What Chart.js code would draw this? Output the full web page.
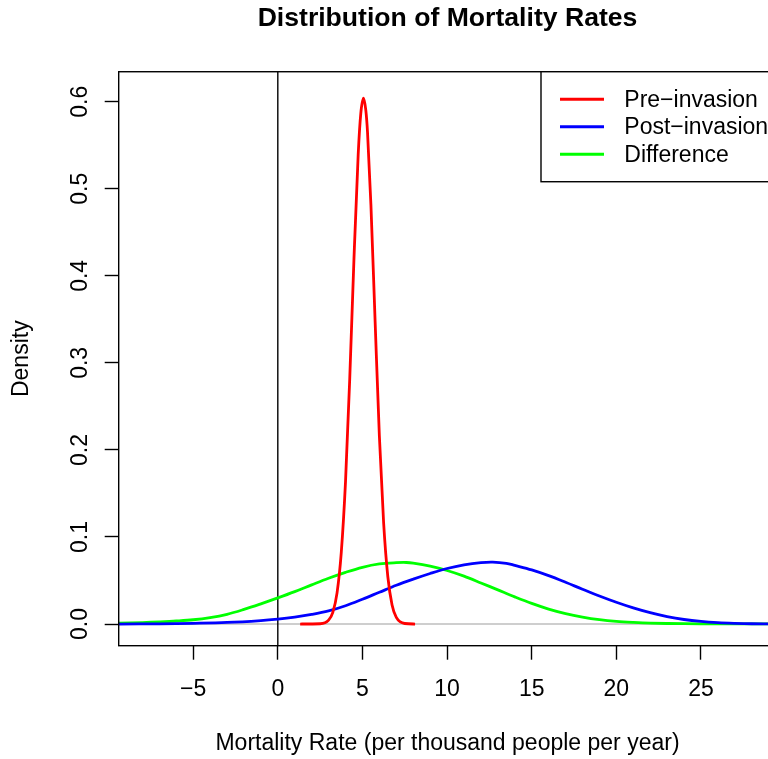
<!DOCTYPE html>
<html>
<head>
<meta charset="utf-8">
<script src="https://cdn.jsdelivr.net/npm/chart.js@4/dist/chart.umd.min.js"></script>
<style>
  html, body { margin: 0; padding: 0; background: #fff; overflow: hidden; }
  #wrap { width: 768px; height: 759px; overflow: hidden; }
</style>
</head>
<body>
<div id="wrap"><canvas id="chart" width="800" height="759"></canvas></div>
<script>
// values
const preX = [1.32, 2.5, 3.0, 3.25, 3.5, 3.75, 4.0, 4.25, 4.5, 4.75, 4.9, 5.06, 5.2, 5.3, 5.5, 5.75, 6.0, 6.25, 6.5, 6.75, 7.0, 7.5, 8.11];
const preY = [0, 0.0003, 0.0044, 0.0134, 0.0358, 0.0823, 0.1636, 0.282, 0.420, 0.540, 0.586, 0.604, 0.590, 0.565, 0.482, 0.347, 0.216, 0.1166, 0.0543, 0.0219, 0.0076, 0.0006, 0];

const postX = [-9.4, -7, -5, -3, -1, 0, 1, 2, 3, 4, 5, 6, 7, 8, 9, 10, 11, 12, 12.7, 13.5, 14, 15, 16, 17, 18, 19, 20, 21, 22, 23, 24, 25, 26, 27, 28, 29.45];
const postY = [0, 0.0002, 0.0008, 0.0018, 0.0040, 0.0057, 0.0080, 0.0110, 0.0150, 0.0210, 0.0285, 0.0365, 0.0445, 0.0515, 0.0580, 0.0638, 0.0680, 0.0706, 0.0712, 0.0698, 0.0674, 0.0622, 0.0556, 0.0480, 0.0400, 0.0322, 0.0250, 0.0185, 0.0130, 0.0085, 0.0052, 0.0030, 0.0016, 0.0008, 0.0003, 0.0001];

const diffX = [-9.4, -8, -7, -6, -5, -4, -3, -2, -1, 0, 1, 2, 3, 4, 5, 6, 7, 7.6, 8, 9, 10, 11, 12, 13, 14, 15, 16, 17, 18, 19, 20, 21, 22, 24, 26, 29.45];
const diffY = [0.0010, 0.0017, 0.0025, 0.0035, 0.0049, 0.0074, 0.0112, 0.0168, 0.0232, 0.0300, 0.0372, 0.0450, 0.0526, 0.0594, 0.0652, 0.0690, 0.0705, 0.0707, 0.0700, 0.0665, 0.0615, 0.0550, 0.0472, 0.0392, 0.0312, 0.0237, 0.0172, 0.0120, 0.0080, 0.0050, 0.0030, 0.0018, 0.0010, 0.0004, 0.0002, 0.0001];

const seriesNames = ["Pre\u2212invasion", "Post\u2212invasion", "Difference"];
const seriesColors = ["#ff0000", "#0000ff", "#00ff00"];

const xTicks = [-5, 0, 5, 10, 15, 20, 25];
const yTicks = [0, 0.1, 0.2, 0.3, 0.4, 0.5, 0.6];

const FONT = "'Liberation Sans', Arial, Helvetica, sans-serif";
const BASE = 23;

function toPoints(xs, ys) {
    return xs.map((x, i) => ({ x: x, y: ys[i] }));
}

// R style extras: box, reference lines, legend
const rStyle = {
    id: "rStyle",
    beforeDatasetsDraw(chart) {
        const { ctx, chartArea: a, scales } = chart;
        ctx.save();
        ctx.beginPath();
        ctx.rect(a.left, a.top, a.right - a.left, a.bottom - a.top);
        ctx.clip();
        ctx.lineWidth = 1.4;
        // abline(h = 0, col = "gray")
        const y0 = scales.y.getPixelForValue(0);
        ctx.strokeStyle = "#bebebe";
        ctx.beginPath();
        ctx.moveTo(a.left, y0);
        ctx.lineTo(a.right, y0);
        ctx.stroke();
        // abline(v = 0)
        const x0 = scales.x.getPixelForValue(0);
        ctx.strokeStyle = "#000";
        ctx.beginPath();
        ctx.moveTo(x0, a.top);
        ctx.lineTo(x0, a.bottom);
        ctx.stroke();
        ctx.restore();
    },
    afterDraw(chart) {
        const { ctx, chartArea: a } = chart;
        ctx.save();
        ctx.strokeStyle = "#000";
        ctx.lineWidth = 1.4;
        ctx.strokeRect(a.left, a.top, a.right - a.left, a.bottom - a.top);

        // legend, top right
        const left = a.right - 235.3;
        const top = a.top;
        ctx.fillStyle = "#fff";
        ctx.fillRect(left, top, a.right - left, 110);
        ctx.strokeRect(left, top, a.right - left, 110);
        ctx.font = BASE + "px " + FONT;
        ctx.textBaseline = "middle";
        ctx.textAlign = "left";
        chart.data.datasets.forEach((ds, i) => {
            const y = top + 27.6 + i * 27.5;
            ctx.strokeStyle = ds.borderColor;
            ctx.lineWidth = 3;
            ctx.beginPath();
            ctx.moveTo(left + 19, y);
            ctx.lineTo(left + 63, y);
            ctx.stroke();
            ctx.fillStyle = "#000";
            ctx.fillText(ds.label, left + 83.3, y + 1);
        });
        ctx.restore();
    }
};

const datasets = [
    toPoints(preX, preY),
    toPoints(postX, postY),
    toPoints(diffX, diffY)
].map((pts, i) => ({
    label: seriesNames[i],
    data: pts,
    showLine: true,
    borderColor: seriesColors[i],
    backgroundColor: seriesColors[i],
    borderWidth: 2.8,
    pointRadius: 0,
    fill: false,
    cubicInterpolationMode: i === 0 ? "monotone" : "default",
    tension: 0.35
}));

new Chart(document.getElementById("chart").getContext("2d"), {
    type: "scatter",
    data: { datasets: datasets },
    options: {
        responsive: false,
        devicePixelRatio: 1,
        animation: false,
        events: [],
        layout: { padding: { left: 0, top: 0, right: 23.7, bottom: 0 } },
        plugins: {
            legend: { display: false },
            tooltip: { enabled: false },
            title: {
                display: true,
                fullSize: false,
                text: "Distribution of Mortality Rates",
                color: "#000",
                font: { family: FONT, size: 26.6, weight: "bold" },
                padding: { top: 2.5, bottom: 37.3 }
            }
        },
        scales: {
            x: {
                type: "linear",
                min: -9.4,
                max: 29.45,
                afterBuildTicks: (s) => { s.ticks = xTicks.map(v => ({ value: v })); },
                afterFit: (s) => { s.height = 113.3; },
                border: { display: false },
                grid: { drawOnChartArea: false, drawTicks: true, tickLength: 14, tickColor: "#000", tickWidth: 1.4 },
                ticks: {
                    autoSkip: false,
                    maxRotation: 0,
                    padding: 16,
                    color: "#000",
                    font: { family: FONT, size: BASE },
                    callback: (v) => (v < 0 ? "\u2212" + Math.abs(v) : String(v))
                },
                title: {
                    display: true,
                    text: "Mortality Rate (per thousand people per year)",
                    color: "#000",
                    font: { family: FONT, size: BASE },
                    padding: { top: 0, bottom: 1.5 }
                }
            },
            y: {
                type: "linear",
                min: -0.0249,
                max: 0.6345,
                afterBuildTicks: (s) => { s.ticks = yTicks.map(v => ({ value: v })); },
                afterFit: (s) => { s.width = 118.7; },
                border: { display: false },
                grid: { drawOnChartArea: false, drawTicks: true, tickLength: 14, tickColor: "#000", tickWidth: 1.4 },
                ticks: {
                    autoSkip: false,
                    minRotation: 90,
                    maxRotation: 90,
                    crossAlign: "center",
                    padding: 8,
                    color: "#000",
                    font: { family: FONT, size: BASE },
                    callback: (v) => v.toFixed(1)
                },
                title: {
                    display: true,
                    text: "Density",
                    color: "#000",
                    font: { family: FONT, size: BASE },
                    padding: { top: 8, bottom: 0 }
                }
            }
        }
    },
    plugins: [rStyle]
});
</script>
</body>
</html>
